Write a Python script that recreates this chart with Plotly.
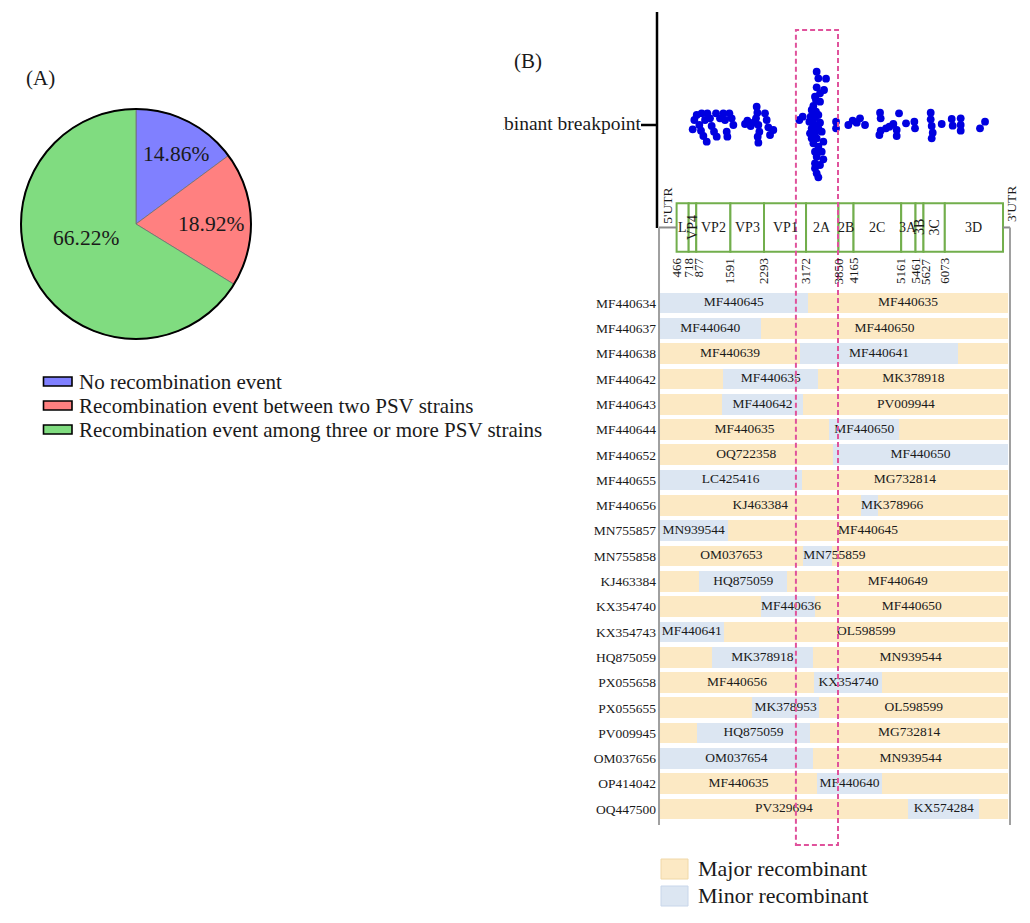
import plotly.graph_objects as go

W, H = 1030, 923
FONT = "Liberation Serif"

# ---- panel A : share of recombination types ----
PIE_LABELS = [
    "No recombination event",
    "Recombination event between two PSV strains",
    "Recombination event among three or more PSV strains",
]
PIE_VALUES = [14.86, 18.92, 66.22]
PIE_COLORS = ["#8080FF", "#FF8080", "#80DC80"]

# ---- panel B : genome map (nt) ----
GENE_NAMES = ["L", "VP4", "VP2", "VP3", "VP1", "2A", "2B", "2C", "3A", "3B", "3C", "3D"]
GENE_STARTS = [466, 718, 877, 1591, 2293, 3172, 3850, 4165, 5161, 5461, 5627, 6073]
GENE_VERTICAL = ["VP4", "3B", "3C"]
GENOME_CDS_END = 7290
GENOME_END = 7436
HOTSPOT = [2960, 3840]

# breakpoint positions (nt) and their swarm spread
BREAKPOINT_POS = [
    802, 837, 886, 941, 976, 990, 1025, 1060, 1095, 1109, 1164, 1199, 1248, 1290, 1304,
    1373, 1443, 1478, 1513, 1527, 1569, 1617, 1652,
    1896, 1945, 2015, 2070, 2140, 2154, 2126, 2175, 2196, 2161, 2175, 2314, 2349, 2384, 2419, 2488,
    3032, 3102, 3394, 3429, 3590, 3548, 3394, 3359, 3325, 3290, 3380, 3269, 3359, 3429, 3241,
    3325, 3464, 3290, 3429, 3255, 3359, 3499, 3290, 3394, 3534, 3325, 3429, 3359, 3499, 3394,
    3534, 3359, 3464, 3359, 3394, 3429, 3464, 3380, 3464,
    3799, 3799, 4056, 4147, 4231, 4300, 4405, 4719, 4732, 4705, 4732, 4844, 4914, 4997, 5067,
    5067, 5116, 5262, 5436, 5450, 5778, 5778, 5799, 5820, 5799, 6008, 6217, 6238, 6405, 6405,
    6405, 6809, 6914,
]
BREAKPOINT_SPREAD = [
    -4.3, 5, 10, 0, -5.7, 11.7, -11, 5, -16.7, 11.7, 6.7, -1, -6.7, 11.7, -11.7,
    6.7, 11.7, 5, -6.7, -11.7, 11.7, 6.7, 0,
    1, 4.3, -1, 2.3, 18.3, 12.3, 6.7, 0, -6.7, -11.7, -17.7, 11.7, 5, -2.3, -10, -5,
    5, 8.3, 53.3, 46.7, 46.3, 35, 37.7, 28.3, 19, 15, 13.3, 8.3, 7.7, 10, 3.3,
    1.7, 2.3, -3.3, -3.3, -8.3, -8.3, -6.7, -13.3, -13.3, -16.7, -18.3, -21.7, -26.7, -26.7, -31.7,
    -34.3, -38.3, -40, -43.3, -48.3, -52.3, 23.3, 25, 31.7,
    3.3, -3.3, 0, 4.3, 2.3, 6.7, 0, 12.3, 6.7, -10, -5.7, -3.3, -1.7, 1, -5,
    -11, 11.7, 1.7, 3.3, -3.3, 12.3, 5.7, -1, -7.7, -13.3, 1, 6, -0.7, 6.7, 0,
    -5.7, -3.3, 3.3,
]

# recombinant strains, parents and minor-parent region (nt)
QUERY = ["MF440634", "MF440637", "MF440638", "MF440642", "MF440643", "MF440644", "MF440652",
         "MF440655", "MF440656", "MN755857", "MN755858", "KJ463384", "KX354740", "KX354743",
         "HQ875059", "PX055658", "PX055655", "PV009945", "OM037656", "OP414042", "OQ447500"]
MAJOR_PARENT = ["MF440635", "MF440650", "MF440639", "MK378918", "PV009944", "MF440635", "OQ722358",
                "MG732814", "KJ463384", "MF440645", "OM037653", "MF440649", "MF440650", "OL598599",
                "MN939544", "MF440656", "OL598599", "MG732814", "MN939544", "MF440635", "PV329694"]
MINOR_PARENT = ["MF440645", "MF440640", "MF440641", "MF440635", "MF440642", "MF440650", "MF440650",
                "LC425416", "MK378966", "MN939544", "MN755859", "HQ875059", "MF440636", "MF440641",
                "MK378918", "KX354740", "MK378953", "HQ875059", "OM037654", "MF440640", "KX574284"]
MINOR_START = [110, 110, 3050, 1440, 1410, 3660, 3730, 110, 4320, 110, 3115, 940, 2230, 110,
               1200, 3345, 2040, 890, 110, 3410, 5310]
MINOR_END = [3210, 2230, 6340, 3430, 3115, 5120, 7400, 3080, 4680, 1530, 3710, 2780, 3360, 1460,
             3320, 4770, 3450, 3255, 3320, 4755, 6795]
MAJOR_START = 110
MAJOR_END = 7400

C_MAJOR = "#FCE9C4"
C_MINOR = "#DCE6F2"
C_GENE = "#72AE4C"
C_HOT = "#E0529C"
C_TEXT = "#1a1a1a"


def px(x):
    return x / W


def py(y):
    return 1 - y / H


def label(x, y, text, size, **kw):
    # paper-anchored text, centred unless told otherwise
    d = dict(x=px(x), y=py(y), xref="paper", yref="paper", text=text, showarrow=False,
             xanchor="center", yanchor="middle", font=dict(family=FONT, size=size, color=C_TEXT))
    d.update(kw)
    return d


XDOM = [px(657), px(1020)]
XRANGE = [56, 7645]
NT_TO_PX = (XDOM[1] - XDOM[0]) * W / (XRANGE[1] - XRANGE[0])
rows = list(range(len(QUERY)))

fig = go.Figure()

# --- panel A pie ---
fig.add_trace(go.Pie(
    values=PIE_VALUES, labels=PIE_LABELS, sort=False, direction="clockwise", rotation=0,
    marker=dict(colors=PIE_COLORS, line=dict(color="#707070", width=0.8)),
    textinfo="none", hoverinfo="label+percent", showlegend=False,
    domain=dict(x=[px(21), px(251)], y=[py(339), py(109)]),
))

# --- breakpoint swarm ---
fig.add_trace(go.Scatter(
    x=BREAKPOINT_POS, y=BREAKPOINT_SPREAD, mode="markers",
    marker=dict(color="#0000E0", size=7.8, line=dict(width=0)),
    xaxis="x", yaxis="y", showlegend=False, hoverinfo="x",
))

# --- major / minor parent bars ---
fig.add_trace(go.Bar(
    y=rows, base=[MAJOR_START] * len(rows), x=[MAJOR_END - MAJOR_START] * len(rows),
    orientation="h", width=0.82, marker=dict(color=C_MAJOR, line=dict(width=0)),
    xaxis="x2", yaxis="y2", showlegend=False, hoverinfo="skip",
))
fig.add_trace(go.Bar(
    y=rows, base=MINOR_START, x=[e - s for s, e in zip(MINOR_START, MINOR_END)],
    orientation="h", width=0.82, marker=dict(color=C_MINOR, line=dict(width=0)),
    xaxis="x2", yaxis="y2", showlegend=False, hoverinfo="skip",
))

# parent labels: minor inside its block, major in the stretch on the other side
lab_x, lab_y, lab_t, lab_pos = [], [], [], []
for i, (s, e) in enumerate(zip(MINOR_START, MINOR_END)):
    if e - s < 1300:
        lab_x.append(s); lab_pos.append("middle right")
    else:
        lab_x.append((s + e) / 2); lab_pos.append("middle center")
    lab_y.append(i); lab_t.append(MINOR_PARENT[i])
    seg = (MAJOR_START, s) if s >= 2900 else (e, MAJOR_END)
    lab_x.append((seg[0] + seg[1]) / 2); lab_pos.append("middle center")
    lab_y.append(i); lab_t.append(MAJOR_PARENT[i])
fig.add_trace(go.Scatter(
    x=lab_x, y=lab_y, text=lab_t, mode="text", textposition=lab_pos,
    textfont=dict(family=FONT, size=13.5, color=C_TEXT), cliponaxis=False,
    xaxis="x2", yaxis="y2", showlegend=False, hoverinfo="skip",
))

# clipped y label of the swarm
fig.add_trace(go.Scatter(
    x=[1], y=[0.5], text=["Recombinant breakpoint"], mode="text", textposition="middle left",
    textfont=dict(family=FONT, size=19.5, color=C_TEXT), cliponaxis=True,
    xaxis="x3", yaxis="y3", showlegend=False, hoverinfo="skip",
))

shapes = []
ann = []

# pie outline
shapes.append(dict(type="circle", xref="paper", yref="paper", x0=px(21), x1=px(251),
                   y0=py(339), y1=py(109), line=dict(color="black", width=2)))

# pie labels
for v, (lx, ly) in zip(PIE_VALUES, [(176, 154), (210.7, 224), (86, 238)]):
    ann.append(label(lx, ly, f"{v:.2f}%", 21.5))

# legend A
for lab, col, ry in zip(PIE_LABELS, PIE_COLORS, [381.5, 405.5, 429.5]):
    shapes.append(dict(type="rect", xref="paper", yref="paper", x0=px(43.5), x1=px(72),
                       y0=py(ry + 4.5), y1=py(ry - 4.5), fillcolor=col,
                       line=dict(color="black", width=1.6)))
    ann.append(label(77, ry, lab, 21, xanchor="left"))

ann.append(label(40, 78, "(A)", 21))
ann.append(label(528, 61, "(B)", 21))

# swarm axis line and tick
shapes.append(dict(type="line", xref="paper", yref="paper", x0=px(657), x1=px(657),
                   y0=py(12), y1=py(228), line=dict(color="black", width=2.5)))
shapes.append(dict(type="line", xref="paper", yref="paper", x0=px(641), x1=px(657),
                   y0=py(125), y1=py(125), line=dict(color="black", width=2.5)))

# genome line (UTRs), frame lines
G_TOP, G_BOT = -3.94, -2.03
G_MID = (G_TOP + G_BOT) / 2
for x0, x1 in [(98, GENE_STARTS[0]), (GENOME_CDS_END, GENOME_END)]:
    shapes.append(dict(type="line", xref="x2", yref="y2", x0=x0, x1=x1, y0=G_MID, y1=G_MID,
                       line=dict(color="#8a8a8a", width=2)))
for xx, ytop in [(98, -2.96), (GENOME_END, G_MID)]:
    shapes.append(dict(type="line", xref="x2", yref="y2", x0=xx, x1=xx, y0=ytop, y1=20.63,
                       line=dict(color="#a0a0a0", width=2)))

# gene boxes
gene_ends = GENE_STARTS[1:] + [GENOME_CDS_END]
for name, s, e in zip(GENE_NAMES, GENE_STARTS, gene_ends):
    shapes.append(dict(type="rect", xref="x2", yref="y2", x0=s, x1=e, y0=G_TOP, y1=G_BOT,
                       fillcolor="white", line=dict(color=C_GENE, width=2), layer="below"))
    ann.append(dict(x=(s + e) / 2, y=G_MID, xref="x2", yref="y2", text=name, showarrow=False,
                    textangle=-90 if name in GENE_VERTICAL else 0,
                    font=dict(family=FONT, size=14, color=C_TEXT)))

# boundary numbers, pushed apart when they would collide
prev = None
for b in GENE_STARTS:
    pos = (b - XRANGE[0]) * NT_TO_PX
    shift = 0
    if prev is not None and pos < prev + 10:
        shift = prev + 10 - pos
    prev = pos + shift
    ann.append(dict(x=b, y=-1.86, xref="x2", yref="y2", text=str(b), showarrow=False,
                    textangle=-90, yanchor="top", xshift=shift,
                    font=dict(family=FONT, size=13, color=C_TEXT)))
ann.append(dict(x=259, y=-3.83, xref="x2", yref="y2", text="5'UTR", showarrow=False,
                textangle=-90, font=dict(family=FONT, size=13.5, color=C_TEXT)))
ann.append(dict(x=7472, y=-3.9, xref="x2", yref="y2", text="3'UTR", showarrow=False,
                textangle=-90, font=dict(family=FONT, size=13.5, color=C_TEXT)))

# hotspot box
shapes.append(dict(type="rect", xref="x", yref="paper", x0=HOTSPOT[0], x1=HOTSPOT[1],
                   y0=py(845), y1=py(30), line=dict(color=C_HOT, width=2, dash="5px,3px"),
                   fillcolor="rgba(0,0,0,0)", layer="above"))

# legend B
for lab, col, edge, ry in [("Major recombinant", C_MAJOR, "#F0D8A8", 869),
                           ("Minor recombinant", C_MINOR, "#C8D6EA", 896)]:
    shapes.append(dict(type="rect", xref="paper", yref="paper", x0=px(661), x1=px(688),
                       y0=py(ry + 10), y1=py(ry - 10), fillcolor=col, line=dict(color=edge, width=1)))
    ann.append(label(696, ry - 1, lab, 22, xanchor="left"))

hidden = dict(visible=False, showgrid=False, zeroline=False)
fig.update_layout(
    width=W, height=H, autosize=False,
    margin=dict(l=0, r=0, t=0, b=0),
    paper_bgcolor="white", plot_bgcolor="rgba(0,0,0,0)",
    font=dict(family=FONT, color=C_TEXT),
    barmode="overlay", bargap=0,
    xaxis=dict(domain=XDOM, range=XRANGE, anchor="y", **hidden),
    yaxis=dict(domain=[py(190), py(12)], range=[-65, 113], anchor="x", **hidden),
    xaxis2=dict(domain=XDOM, range=XRANGE, anchor="y2", matches="x", **hidden),
    yaxis2=dict(domain=[py(845), py(190)], range=[21.423, -4.466], anchor="x2",
                showgrid=False, zeroline=False, showline=False, ticks="",
                tickvals=rows, ticktext=QUERY,
                tickfont=dict(family=FONT, size=13.5, color=C_TEXT)),
    xaxis3=dict(domain=[px(503), px(641)], range=[0, 1], anchor="y3", **hidden),
    yaxis3=dict(domain=[py(140), py(110)], range=[0, 1], anchor="x3", **hidden),
    shapes=shapes, annotations=ann,
)

# page has an 8px default body margin; drop it so the figure sits at the origin
fig.write_html("out.html", config={"displayModeBar": False},
               post_script="document.body.style.margin='0px';")
